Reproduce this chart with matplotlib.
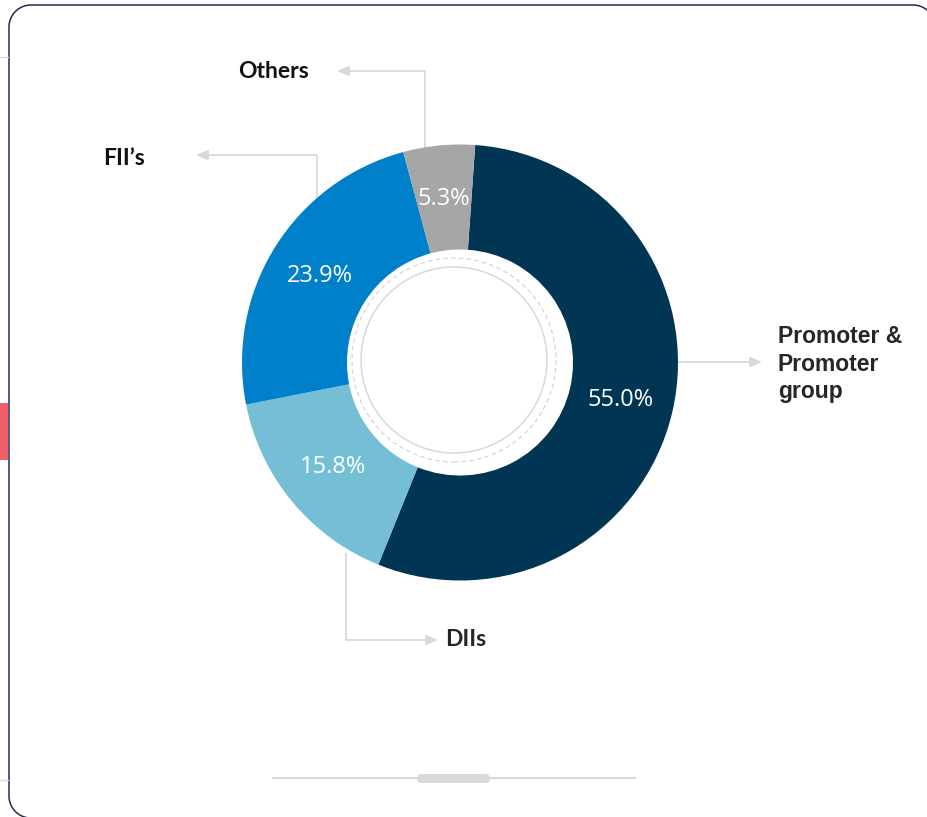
import matplotlib
matplotlib.use("Agg")
import numpy as np
import matplotlib.pyplot as plt
from matplotlib.patches import FancyBboxPatch, Circle, Rectangle

# shareholding pattern data
categories = ["Promoter &\nPromoter\ngroup", "DIIs", "FII\u2019s", "Others"]
shares = [55.0, 15.8, 23.9, 5.3]
colors = ["#003654", "#74BFD5", "#0080CB", "#A6A6A6"]

W, H = 928, 817
LINE = "#D9D9D9"


def Y(py):
    # picture rows run downwards, axes y runs upwards
    return H - py


def arc(x0, y0, r, a0, a1):
    t = np.radians(np.linspace(a0, a1, 30))
    return list(x0 + r * np.cos(t)), list(y0 + r * np.sin(t))


fig = plt.figure(figsize=(W / 100, H / 100), dpi=100)
ax = fig.add_axes([0, 0, 1, 1])

# card frame: open outline, the right side runs off the picture
r = 22
fx, fy = [], []
for seg in [arc(913, Y(5 + r), r, -40, 90),          # top-right corner
            arc(9 + r, Y(5 + r), r, 90, 180),         # top-left corner
            arc(9 + r, Y(818 - r), r, 180, 270)]:     # bottom-left corner
    fx += seg[0]
    fy += seg[1]
fx.append(950)
fy.append(Y(818))
ax.plot(fx, fy, color="#1F2D4F", lw=1.1, zorder=1, solid_capstyle="butt")

ax.add_patch(Rectangle((0, Y(460)), 8, 57, facecolor="#F0606A", edgecolor="none", zorder=2))
ax.plot([0, 8], [Y(57), Y(57)], color=LINE, lw=1, zorder=2)
ax.plot([0, 8], [Y(780), Y(780)], color=LINE, lw=1, zorder=2)

# donut
cx, cy, R = 460, Y(362.5), 218
wedges, _, pcts = ax.pie(shares, colors=colors, startangle=86, counterclock=False,
                         radius=R, center=(cx, cy), frame=True,
                         wedgeprops=dict(width=105, edgecolor="none", zorder=3),
                         autopct="%.1f%%", pctdistance=0.755,
                         textprops=dict(color="white", fontsize=17, family="Open Sans"))
for t in pcts:
    t.set_zorder(5)

# decorative rings inside the hole
ax.add_patch(Circle((454, Y(360)), 102, fill=False, ec="#D0D0D0", lw=0.8, ls=(0, (4, 3)), zorder=4))
ax.add_patch(Circle((454, Y(360)), 93, fill=False, ec="#D6D6D6", lw=1.0, zorder=4))

# callout lines with arrows
arrow = dict(arrowstyle="-|>,head_length=0.7,head_width=0.3", color=LINE, lw=1.3,
             shrinkA=0, shrinkB=0)
callouts = [
    ([(425, 148), (425, 71)], (337, 71)),
    ([(317, 203), (317, 155)], (196, 155)),
    ([(678, 362)], (762, 362)),
    ([(346, 553), (346, 640)], (438, 640)),
]
for pts, tip in callouts:
    xs = [p[0] for p in pts]
    ys = [Y(p[1]) for p in pts]
    if len(pts) > 1:
        ax.plot(xs, ys, color=LINE, lw=1.3, zorder=2, solid_capstyle="butt")
    ax.annotate("", xy=(tip[0], Y(tip[1])), xytext=(xs[-1], ys[-1]),
                arrowprops=arrow, zorder=2)

# category labels
ax.text(309, Y(71), categories[3], ha="right", va="center", fontsize=16.5,
        fontweight="bold", family="Lato", color="#111111", zorder=5)
ax.text(103, Y(158), categories[2], ha="left", va="center", fontsize=16.5,
        fontweight="bold", family="Lato", color="#111111", zorder=5)
ax.text(445, Y(640), categories[1], ha="left", va="center", fontsize=16.5,
        fontweight="bold", family="Lato", color="#262626", zorder=5)
ax.text(778, Y(364), categories[0], ha="left", va="center", fontsize=16.5,
        fontweight="bold", family="Liberation Sans", color="#262626",
        linespacing=1.25, zorder=5)

# bottom slider
ax.plot([273, 635], [Y(778), Y(778)], color=LINE, lw=1.5, zorder=2)
ax.add_patch(FancyBboxPatch((417, Y(783)), 73, 9,
                            boxstyle="round,pad=0,rounding_size=4.5",
                            facecolor=LINE, edgecolor="none", zorder=3))

ax.set_xlim(0, W)
ax.set_ylim(0, H)
ax.set_aspect("auto")
ax.axis("off")

fig.savefig("out.png", dpi=100, facecolor="white")
